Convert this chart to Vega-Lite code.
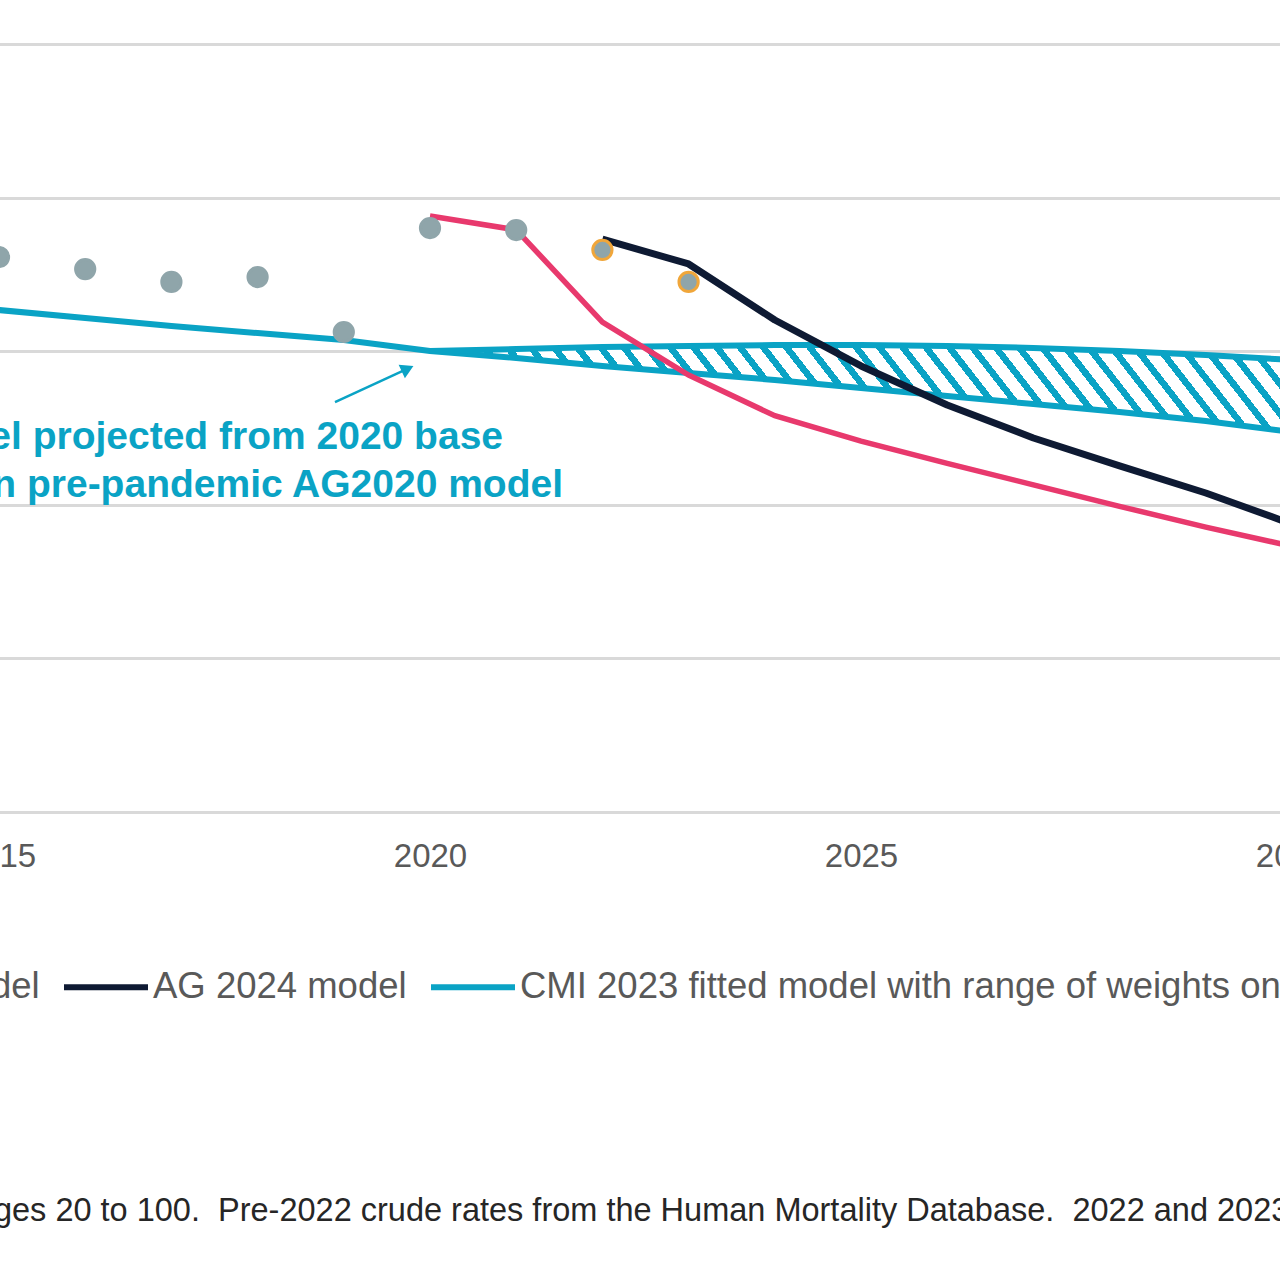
{
  "$schema": "https://vega.github.io/schema/vega-lite/v6.json",
  "width": 1280,
  "height": 768,
  "autosize": {"type": "none"},
  "padding": {"left": 0, "top": 44, "right": 0, "bottom": 468},
  "background": "#ffffff",
  "config": {"view": {"stroke": null}, "font": "Liberation Sans"},
  "datasets": {
    "lines": [
      {"year": 2020, "value": 0.988, "series": "AG 2022 model", "branch": "main"},
      {"year": 2021, "value": 0.979, "series": "AG 2022 model", "branch": "main"},
      {"year": 2022, "value": 0.919, "series": "AG 2022 model", "branch": "main"},
      {"year": 2023, "value": 0.8845, "series": "AG 2022 model", "branch": "main"},
      {"year": 2024, "value": 0.858, "series": "AG 2022 model", "branch": "main"},
      {"year": 2025, "value": 0.8415, "series": "AG 2022 model", "branch": "main"},
      {"year": 2026, "value": 0.827, "series": "AG 2022 model", "branch": "main"},
      {"year": 2027, "value": 0.813, "series": "AG 2022 model", "branch": "main"},
      {"year": 2028, "value": 0.799, "series": "AG 2022 model", "branch": "main"},
      {"year": 2029, "value": 0.7855, "series": "AG 2022 model", "branch": "main"},
      {"year": 2030, "value": 0.773, "series": "AG 2022 model", "branch": "main"},
      {"year": 2022, "value": 0.973, "series": "AG 2024 model", "branch": "main"},
      {"year": 2023, "value": 0.9568, "series": "AG 2024 model", "branch": "main"},
      {"year": 2024, "value": 0.9203, "series": "AG 2024 model", "branch": "main"},
      {"year": 2025, "value": 0.8904, "series": "AG 2024 model", "branch": "main"},
      {"year": 2026, "value": 0.865, "series": "AG 2024 model", "branch": "main"},
      {"year": 2027, "value": 0.8435, "series": "AG 2024 model", "branch": "main"},
      {"year": 2028, "value": 0.8253, "series": "AG 2024 model", "branch": "main"},
      {"year": 2029, "value": 0.8077, "series": "AG 2024 model", "branch": "main"},
      {"year": 2030, "value": 0.7875, "series": "AG 2024 model", "branch": "main"},
      {"year": 2015, "value": 0.9268, "series": "CMI 2023 fitted model with range of weights on 2020–2022 data", "branch": "low"},
      {"year": 2016, "value": 0.9216, "series": "CMI 2023 fitted model with range of weights on 2020–2022 data", "branch": "low"},
      {"year": 2017, "value": 0.9164, "series": "CMI 2023 fitted model with range of weights on 2020–2022 data", "branch": "low"},
      {"year": 2018, "value": 0.9118, "series": "CMI 2023 fitted model with range of weights on 2020–2022 data", "branch": "low"},
      {"year": 2019, "value": 0.9073, "series": "CMI 2023 fitted model with range of weights on 2020–2022 data", "branch": "low"},
      {"year": 2020, "value": 0.9001, "series": "CMI 2023 fitted model with range of weights on 2020–2022 data", "branch": "low"},
      {"year": 2021, "value": 0.8956, "series": "CMI 2023 fitted model with range of weights on 2020–2022 data", "branch": "low"},
      {"year": 2022, "value": 0.8904, "series": "CMI 2023 fitted model with range of weights on 2020–2022 data", "branch": "low"},
      {"year": 2023, "value": 0.8858, "series": "CMI 2023 fitted model with range of weights on 2020–2022 data", "branch": "low"},
      {"year": 2024, "value": 0.8813, "series": "CMI 2023 fitted model with range of weights on 2020–2022 data", "branch": "low"},
      {"year": 2025, "value": 0.876, "series": "CMI 2023 fitted model with range of weights on 2020–2022 data", "branch": "low"},
      {"year": 2026, "value": 0.8708, "series": "CMI 2023 fitted model with range of weights on 2020–2022 data", "branch": "low"},
      {"year": 2027, "value": 0.8656, "series": "CMI 2023 fitted model with range of weights on 2020–2022 data", "branch": "low"},
      {"year": 2028, "value": 0.8604, "series": "CMI 2023 fitted model with range of weights on 2020–2022 data", "branch": "low"},
      {"year": 2029, "value": 0.8546, "series": "CMI 2023 fitted model with range of weights on 2020–2022 data", "branch": "low"},
      {"year": 2030, "value": 0.8474, "series": "CMI 2023 fitted model with range of weights on 2020–2022 data", "branch": "low"},
      {"year": 2020, "value": 0.9001, "series": "CMI 2023 fitted model with range of weights on 2020–2022 data", "branch": "high"},
      {"year": 2021, "value": 0.9014, "series": "CMI 2023 fitted model with range of weights on 2020–2022 data", "branch": "high"},
      {"year": 2022, "value": 0.9027, "series": "CMI 2023 fitted model with range of weights on 2020–2022 data", "branch": "high"},
      {"year": 2023, "value": 0.9034, "series": "CMI 2023 fitted model with range of weights on 2020–2022 data", "branch": "high"},
      {"year": 2024, "value": 0.904, "series": "CMI 2023 fitted model with range of weights on 2020–2022 data", "branch": "high"},
      {"year": 2025, "value": 0.904, "series": "CMI 2023 fitted model with range of weights on 2020–2022 data", "branch": "high"},
      {"year": 2026, "value": 0.9034, "series": "CMI 2023 fitted model with range of weights on 2020–2022 data", "branch": "high"},
      {"year": 2027, "value": 0.9021, "series": "CMI 2023 fitted model with range of weights on 2020–2022 data", "branch": "high"},
      {"year": 2028, "value": 0.9001, "series": "CMI 2023 fitted model with range of weights on 2020–2022 data", "branch": "high"},
      {"year": 2029, "value": 0.8975, "series": "CMI 2023 fitted model with range of weights on 2020–2022 data", "branch": "high"},
      {"year": 2030, "value": 0.8943, "series": "CMI 2023 fitted model with range of weights on 2020–2022 data", "branch": "high"}
    ],
    "points": [
      {"year": 2015, "value": 0.9613, "source": "HMD"},
      {"year": 2016, "value": 0.9535, "source": "HMD"},
      {"year": 2017, "value": 0.9451, "source": "HMD"},
      {"year": 2018, "value": 0.9483, "source": "HMD"},
      {"year": 2019, "value": 0.9125, "source": "HMD"},
      {"year": 2020, "value": 0.9802, "source": "HMD"},
      {"year": 2021, "value": 0.9789, "source": "HMD"},
      {"year": 2022, "value": 0.9659, "source": "CBS"},
      {"year": 2023, "value": 0.9451, "source": "CBS"}
    ],
    "annotation": [
      {"year": 2020.847, "value": 0.8441, "label": "Expected mortality: model projected from 2020 base"},
      {"year": 2021.543, "value": 0.8129, "label": "based on pre-pandemic AG2020 model"}
    ],
    "arrow": [
      {"year": 2018.898, "value": 0.8669, "year2": 2019.71, "value2": 0.8878}
    ],
    "arrowhead": [
      {"year": 2019.74, "value": 0.8886}
    ],
    "footnote": [
      {"year": 2014.69, "value": 0.3402, "label": "Ages 20 to 100.\u00a0 Pre-2022 crude rates from the Human Mortality Database.\u00a0 2022 and 2023 crude rates from Statistics Netherlands."}
    ]
  },
  "encoding": {
    "x": {
      "field": "year",
      "type": "quantitative",
      "scale": {"domain": [2015, 2030], "range": [-1, 1292], "nice": false, "zero": false},
      "axis": {
        "values": [2015, 2020, 2025, 2030],
        "format": "d",
        "title": null,
        "grid": false,
        "ticks": false,
        "domain": true,
        "domainColor": "#d9d9d9",
        "domainWidth": 3,
        "labelFontSize": 33,
        "labelColor": "#595959",
        "labelPadding": 28,
        "labelFlush": false,
        "labelBound": false,
        "labelOverlap": false
      }
    },
    "y": {
      "field": "value",
      "type": "quantitative",
      "scale": {"domain": [0.6, 1.1], "zero": false, "nice": false},
      "axis": {
        "values": [0.6, 0.7, 0.8, 0.9, 1.0, 1.1],
        "title": null,
        "labels": false,
        "ticks": false,
        "domain": false,
        "grid": true,
        "gridColor": "#d9d9d9",
        "gridWidth": 3
      }
    }
  },
  "layer": [
    {
      "data": {"name": "lines"},
      "transform": [
        {"filter": "(datum.branch === 'low' || datum.branch === 'high') && datum.year >= 2020"},
        {"pivot": "branch", "value": "value", "groupby": ["year"]}
      ],
      "mark": {
        "type": "area",
        "fill": {
          "gradient": "linear",
          "x1": 0, "y1": 1, "x2": 1.0719, "y2": 0.9158,
          "stops": [
            {"offset": 0, "color": "#0aa3c5"}, {"offset": 0.009, "color": "#0aa3c5"}, {"offset": 0.009, "color": "#ffffff"}, {"offset": 0.025, "color": "#ffffff"},
            {"offset": 0.025, "color": "#0aa3c5"}, {"offset": 0.034, "color": "#0aa3c5"}, {"offset": 0.034, "color": "#ffffff"}, {"offset": 0.05, "color": "#ffffff"},
            {"offset": 0.05, "color": "#0aa3c5"}, {"offset": 0.059, "color": "#0aa3c5"}, {"offset": 0.059, "color": "#ffffff"}, {"offset": 0.075, "color": "#ffffff"},
            {"offset": 0.075, "color": "#0aa3c5"}, {"offset": 0.084, "color": "#0aa3c5"}, {"offset": 0.084, "color": "#ffffff"}, {"offset": 0.1, "color": "#ffffff"},
            {"offset": 0.1, "color": "#0aa3c5"}, {"offset": 0.109, "color": "#0aa3c5"}, {"offset": 0.109, "color": "#ffffff"}, {"offset": 0.125, "color": "#ffffff"},
            {"offset": 0.125, "color": "#0aa3c5"}, {"offset": 0.134, "color": "#0aa3c5"}, {"offset": 0.134, "color": "#ffffff"}, {"offset": 0.15, "color": "#ffffff"},
            {"offset": 0.15, "color": "#0aa3c5"}, {"offset": 0.159, "color": "#0aa3c5"}, {"offset": 0.159, "color": "#ffffff"}, {"offset": 0.175, "color": "#ffffff"},
            {"offset": 0.175, "color": "#0aa3c5"}, {"offset": 0.184, "color": "#0aa3c5"}, {"offset": 0.184, "color": "#ffffff"}, {"offset": 0.2, "color": "#ffffff"},
            {"offset": 0.2, "color": "#0aa3c5"}, {"offset": 0.209, "color": "#0aa3c5"}, {"offset": 0.209, "color": "#ffffff"}, {"offset": 0.225, "color": "#ffffff"},
            {"offset": 0.225, "color": "#0aa3c5"}, {"offset": 0.234, "color": "#0aa3c5"}, {"offset": 0.234, "color": "#ffffff"}, {"offset": 0.25, "color": "#ffffff"},
            {"offset": 0.25, "color": "#0aa3c5"}, {"offset": 0.259, "color": "#0aa3c5"}, {"offset": 0.259, "color": "#ffffff"}, {"offset": 0.275, "color": "#ffffff"},
            {"offset": 0.275, "color": "#0aa3c5"}, {"offset": 0.284, "color": "#0aa3c5"}, {"offset": 0.284, "color": "#ffffff"}, {"offset": 0.3, "color": "#ffffff"},
            {"offset": 0.3, "color": "#0aa3c5"}, {"offset": 0.309, "color": "#0aa3c5"}, {"offset": 0.309, "color": "#ffffff"}, {"offset": 0.325, "color": "#ffffff"},
            {"offset": 0.325, "color": "#0aa3c5"}, {"offset": 0.334, "color": "#0aa3c5"}, {"offset": 0.334, "color": "#ffffff"}, {"offset": 0.35, "color": "#ffffff"},
            {"offset": 0.35, "color": "#0aa3c5"}, {"offset": 0.359, "color": "#0aa3c5"}, {"offset": 0.359, "color": "#ffffff"}, {"offset": 0.375, "color": "#ffffff"},
            {"offset": 0.375, "color": "#0aa3c5"}, {"offset": 0.384, "color": "#0aa3c5"}, {"offset": 0.384, "color": "#ffffff"}, {"offset": 0.4, "color": "#ffffff"},
            {"offset": 0.4, "color": "#0aa3c5"}, {"offset": 0.409, "color": "#0aa3c5"}, {"offset": 0.409, "color": "#ffffff"}, {"offset": 0.425, "color": "#ffffff"},
            {"offset": 0.425, "color": "#0aa3c5"}, {"offset": 0.434, "color": "#0aa3c5"}, {"offset": 0.434, "color": "#ffffff"}, {"offset": 0.45, "color": "#ffffff"},
            {"offset": 0.45, "color": "#0aa3c5"}, {"offset": 0.459, "color": "#0aa3c5"}, {"offset": 0.459, "color": "#ffffff"}, {"offset": 0.475, "color": "#ffffff"},
            {"offset": 0.475, "color": "#0aa3c5"}, {"offset": 0.484, "color": "#0aa3c5"}, {"offset": 0.484, "color": "#ffffff"}, {"offset": 0.5, "color": "#ffffff"},
            {"offset": 0.5, "color": "#0aa3c5"}, {"offset": 0.509, "color": "#0aa3c5"}, {"offset": 0.509, "color": "#ffffff"}, {"offset": 0.525, "color": "#ffffff"},
            {"offset": 0.525, "color": "#0aa3c5"}, {"offset": 0.534, "color": "#0aa3c5"}, {"offset": 0.534, "color": "#ffffff"}, {"offset": 0.55, "color": "#ffffff"},
            {"offset": 0.55, "color": "#0aa3c5"}, {"offset": 0.559, "color": "#0aa3c5"}, {"offset": 0.559, "color": "#ffffff"}, {"offset": 0.575, "color": "#ffffff"},
            {"offset": 0.575, "color": "#0aa3c5"}, {"offset": 0.584, "color": "#0aa3c5"}, {"offset": 0.584, "color": "#ffffff"}, {"offset": 0.6, "color": "#ffffff"},
            {"offset": 0.6, "color": "#0aa3c5"}, {"offset": 0.609, "color": "#0aa3c5"}, {"offset": 0.609, "color": "#ffffff"}, {"offset": 0.625, "color": "#ffffff"},
            {"offset": 0.625, "color": "#0aa3c5"}, {"offset": 0.634, "color": "#0aa3c5"}, {"offset": 0.634, "color": "#ffffff"}, {"offset": 0.65, "color": "#ffffff"},
            {"offset": 0.65, "color": "#0aa3c5"}, {"offset": 0.659, "color": "#0aa3c5"}, {"offset": 0.659, "color": "#ffffff"}, {"offset": 0.675, "color": "#ffffff"},
            {"offset": 0.675, "color": "#0aa3c5"}, {"offset": 0.684, "color": "#0aa3c5"}, {"offset": 0.684, "color": "#ffffff"}, {"offset": 0.7, "color": "#ffffff"},
            {"offset": 0.7, "color": "#0aa3c5"}, {"offset": 0.709, "color": "#0aa3c5"}, {"offset": 0.709, "color": "#ffffff"}, {"offset": 0.725, "color": "#ffffff"},
            {"offset": 0.725, "color": "#0aa3c5"}, {"offset": 0.734, "color": "#0aa3c5"}, {"offset": 0.734, "color": "#ffffff"}, {"offset": 0.75, "color": "#ffffff"},
            {"offset": 0.75, "color": "#0aa3c5"}, {"offset": 0.759, "color": "#0aa3c5"}, {"offset": 0.759, "color": "#ffffff"}, {"offset": 0.775, "color": "#ffffff"},
            {"offset": 0.775, "color": "#0aa3c5"}, {"offset": 0.784, "color": "#0aa3c5"}, {"offset": 0.784, "color": "#ffffff"}, {"offset": 0.8, "color": "#ffffff"},
            {"offset": 0.8, "color": "#0aa3c5"}, {"offset": 0.809, "color": "#0aa3c5"}, {"offset": 0.809, "color": "#ffffff"}, {"offset": 0.825, "color": "#ffffff"},
            {"offset": 0.825, "color": "#0aa3c5"}, {"offset": 0.834, "color": "#0aa3c5"}, {"offset": 0.834, "color": "#ffffff"}, {"offset": 0.85, "color": "#ffffff"},
            {"offset": 0.85, "color": "#0aa3c5"}, {"offset": 0.859, "color": "#0aa3c5"}, {"offset": 0.859, "color": "#ffffff"}, {"offset": 0.875, "color": "#ffffff"},
            {"offset": 0.875, "color": "#0aa3c5"}, {"offset": 0.884, "color": "#0aa3c5"}, {"offset": 0.884, "color": "#ffffff"}, {"offset": 0.9, "color": "#ffffff"},
            {"offset": 0.9, "color": "#0aa3c5"}, {"offset": 0.909, "color": "#0aa3c5"}, {"offset": 0.909, "color": "#ffffff"}, {"offset": 0.925, "color": "#ffffff"},
            {"offset": 0.925, "color": "#0aa3c5"}, {"offset": 0.934, "color": "#0aa3c5"}, {"offset": 0.934, "color": "#ffffff"}, {"offset": 0.95, "color": "#ffffff"},
            {"offset": 0.95, "color": "#0aa3c5"}, {"offset": 0.959, "color": "#0aa3c5"}, {"offset": 0.959, "color": "#ffffff"}, {"offset": 0.975, "color": "#ffffff"},
            {"offset": 0.975, "color": "#0aa3c5"}, {"offset": 0.984, "color": "#0aa3c5"}, {"offset": 0.984, "color": "#ffffff"}, {"offset": 1, "color": "#ffffff"}
          ]
        }
      },
      "encoding": {
        "y": {"field": "low", "type": "quantitative"},
        "y2": {"field": "high"}
      }
    },
    {
      "data": {"name": "lines"},
      "transform": [{"filter": "datum.branch === 'low' || datum.branch === 'high'"}],
      "mark": {"type": "line", "strokeWidth": 6, "strokeCap": "butt"},
      "encoding": {
        "color": {
          "field": "series",
          "type": "nominal",
          "scale": {
            "domain": ["AG 2022 model", "AG 2024 model", "CMI 2023 fitted model with range of weights on 2020–2022 data"],
            "range": ["#e8396d", "#0e1a33", "#0aa3c5"]
          },
          "legend": {
            "orient": "none",
            "legendX": -306,
            "legendY": 898,
            "direction": "horizontal",
            "title": null,
            "symbolType": "stroke",
            "symbolSize": 7056,
            "symbolStrokeWidth": 6,
            "labelFontSize": 36.5,
            "labelColor": "#595959",
            "labelOffset": 2,
            "columnPadding": 12,
            "labelLimit": 3000,
            "padding": 0
          }
        },
        "detail": {"field": "branch"}
      }
    },
    {
      "data": {"name": "lines"},
      "transform": [{"filter": "datum.series === 'AG 2022 model'"}],
      "mark": {"type": "line", "strokeWidth": 5.5},
      "encoding": {"color": {"field": "series", "type": "nominal"}}
    },
    {
      "data": {"name": "lines"},
      "transform": [{"filter": "datum.series === 'AG 2024 model'"}],
      "mark": {"type": "line", "strokeWidth": 7, "strokeJoin": "round"},
      "encoding": {"color": {"field": "series", "type": "nominal"}}
    },
    {
      "data": {"name": "points"},
      "mark": {"type": "circle", "size": 370, "opacity": 1, "strokeWidth": 3},
      "encoding": {
        "fill": {"value": "#8fa5aa"},
        "stroke": {
          "field": "source",
          "type": "nominal",
          "scale": {"domain": ["HMD", "CBS"], "range": ["#8fa5aa", "#f0a63a"]},
          "legend": null
        }
      }
    },
    {
      "data": {"name": "arrow"},
      "mark": {"type": "rule", "color": "#0aa3c5", "strokeWidth": 2.5},
      "encoding": {
        "x2": {"field": "year2"},
        "y2": {"field": "value2"}
      }
    },
    {
      "data": {"name": "arrowhead"},
      "mark": {"type": "point", "shape": "triangle-right", "filled": true, "color": "#0aa3c5", "size": 220, "angle": -25, "opacity": 1}
    },
    {
      "data": {"name": "annotation"},
      "mark": {"type": "text", "align": "right", "baseline": "middle", "fontSize": 39, "fontWeight": "bold", "color": "#0aa3c5"},
      "encoding": {"text": {"field": "label"}}
    },
    {
      "data": {"name": "footnote"},
      "mark": {"type": "text", "align": "left", "baseline": "middle", "fontSize": 32.5, "color": "#262626"},
      "encoding": {"text": {"field": "label"}}
    }
  ]
}
